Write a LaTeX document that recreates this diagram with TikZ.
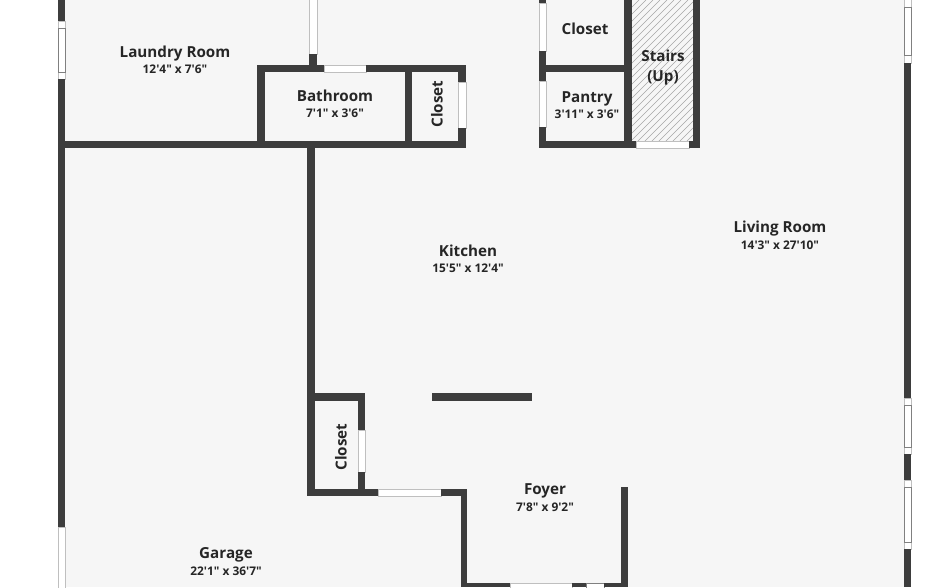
\documentclass[tikz,border=0pt]{standalone}
\usepackage{fontspec}
\newfontfamily\roomfont{Open Sans}
\definecolor{wallcol}{HTML}{3D3D3D}
\definecolor{floorcol}{HTML}{F6F6F6}
\tikzset{
    wall/.style={fill=wallcol},
    opening/.style={fill=white,draw=black!25,line width=0.5pt},
    pane/.style={fill=white,draw=black!50,line width=0.6pt},
    roomname/.style={font=\roomfont\bfseries\fontsize{15.2}{18}\selectfont,text=black!85,inner sep=0pt,anchor=base},
    roomsize/.style={font=\roomfont\bfseries\fontsize{11.9}{14}\selectfont,text=black!85,inner sep=0pt,anchor=base},
    closetname/.style={font=\roomfont\bfseries\fontsize{15.2}{18}\selectfont,text=black!85,inner sep=0pt,rotate=90},
}
\begin{document}
\begin{tikzpicture}[x=1pt,y=-1pt]
    \useasboundingbox (0,0) rectangle (926,587);
    \fill[floorcol] (65,0) rectangle (904,587);
    \begin{scope}
        \clip (632,0) rectangle (693,141);
        \foreach \hatchx in {632,639,...,840} {
            \draw[black!35,line width=0.5pt] (\hatchx,0) -- ++(-150,150);
        }
    \end{scope}

    \fill[wall] (58,0) rectangle (65,21);
    \draw[opening] (58,21) rectangle (65,79);
    \draw[pane] (58,28) rectangle (65,72);
    \fill[wall] (58,79) rectangle (65,527);
    \draw[opening] (58,527) rectangle (65,588);

    \fill[wall] (58,141) rectangle (466,148);
    \fill[wall] (257,65) rectangle (324,72);
    \draw[opening] (324,65) rectangle (366,72);
    \fill[wall] (366,65) rectangle (466,72);
    \fill[wall] (257,65) rectangle (265,148);
    \fill[wall] (405,65) rectangle (412,148);
    \fill[wall] (458,65) rectangle (466,82);
    \draw[opening] (458,82) rectangle (466,128);
    \fill[wall] (458,128) rectangle (466,148);
    \draw[opening] (309,-1) rectangle (317,54);
    \fill[wall] (309,54) rectangle (317,65);

    \fill[wall] (307,148) rectangle (315,496);
    \fill[wall] (307,393) rectangle (365,401);
    \fill[wall] (358,393) rectangle (365,430);
    \draw[opening] (358,430) rectangle (365,472);
    \fill[wall] (358,472) rectangle (365,496);
    \fill[wall] (307,489) rectangle (378,496);
    \draw[opening] (378,489) rectangle (441,496);
    \fill[wall] (441,489) rectangle (467,496);
    \fill[wall] (461,489) rectangle (467,587);
    \fill[wall] (432,393) rectangle (532,401);

    \fill[wall] (461,583) rectangle (510,587);
    \draw[opening] (510,583) rectangle (572,588);
    \fill[wall] (572,583) rectangle (586,587);
    \draw[pane] (586,583) rectangle (604,588);
    \fill[wall] (604,583) rectangle (628,587);
    \fill[wall] (621,487) rectangle (628,587);

    \fill[wall] (539,-1) rectangle (546,3);
    \draw[opening] (539,3) rectangle (546,51);
    \fill[wall] (539,51) rectangle (546,81);
    \draw[opening] (539,81) rectangle (546,127);
    \fill[wall] (539,127) rectangle (546,148);
    \fill[wall] (539,65) rectangle (632,72);
    \fill[wall] (624,0) rectangle (632,148);
    \fill[wall] (539,141) rectangle (636,148);
    \draw[opening] (636,141) rectangle (689,148);
    \fill[wall] (689,141) rectangle (700,148);
    \fill[wall] (693,0) rectangle (700,148);

    \draw[opening] (904,-1) rectangle (911,63);
    \draw[pane] (904,7) rectangle (911,55);
    \fill[wall] (904,63) rectangle (911,398);
    \draw[opening] (904,398) rectangle (911,454);
    \draw[pane] (904,405) rectangle (911,447);
    \fill[wall] (904,454) rectangle (911,480);
    \draw[opening] (904,480) rectangle (911,549);
    \draw[pane] (904,487) rectangle (911,542);
    \fill[wall] (904,549) rectangle (911,587);

    \node[roomname] (laundry) at (175,57) {Laundry Room};
    \node[roomsize] (laundrysize) at (175,73.5) {12'4" x 7'6"};
    \node[roomname] (bathroom) at (335,101) {Bathroom};
    \node[roomsize] (bathroomsize) at (335,117.5) {7'1" x 3'6"};
    \node[closetname] (closeta) at (437,104) {Closet};
    \node[roomname] (closetb) at (585,34) {Closet};
    \node[roomname] (stairs) at (663,61) {Stairs};
    \node[roomname] (stairsup) at (663,81) {(Up)};
    \node[roomname] (pantry) at (587,102) {Pantry};
    \node[roomsize] (pantrysize) at (587,118.5) {3'11" x 3'6"};
    \node[roomname] (kitchen) at (468,256) {Kitchen};
    \node[roomsize] (kitchensize) at (468,272) {15'5" x 12'4"};
    \node[roomname] (living) at (780,232.5) {Living Room};
    \node[roomsize] (livingsize) at (780,249) {14'3" x 27'10"};
    \node[closetname] (closetc) at (341,447) {Closet};
    \node[roomname] (foyer) at (545,494.5) {Foyer};
    \node[roomsize] (foyersize) at (545,511) {7'8" x 9'2"};
    \node[roomname] (garage) at (226,558) {Garage};
    \node[roomsize] (garagesize) at (226,575) {22'1" x 36'7"};
\end{tikzpicture}
\end{document}
